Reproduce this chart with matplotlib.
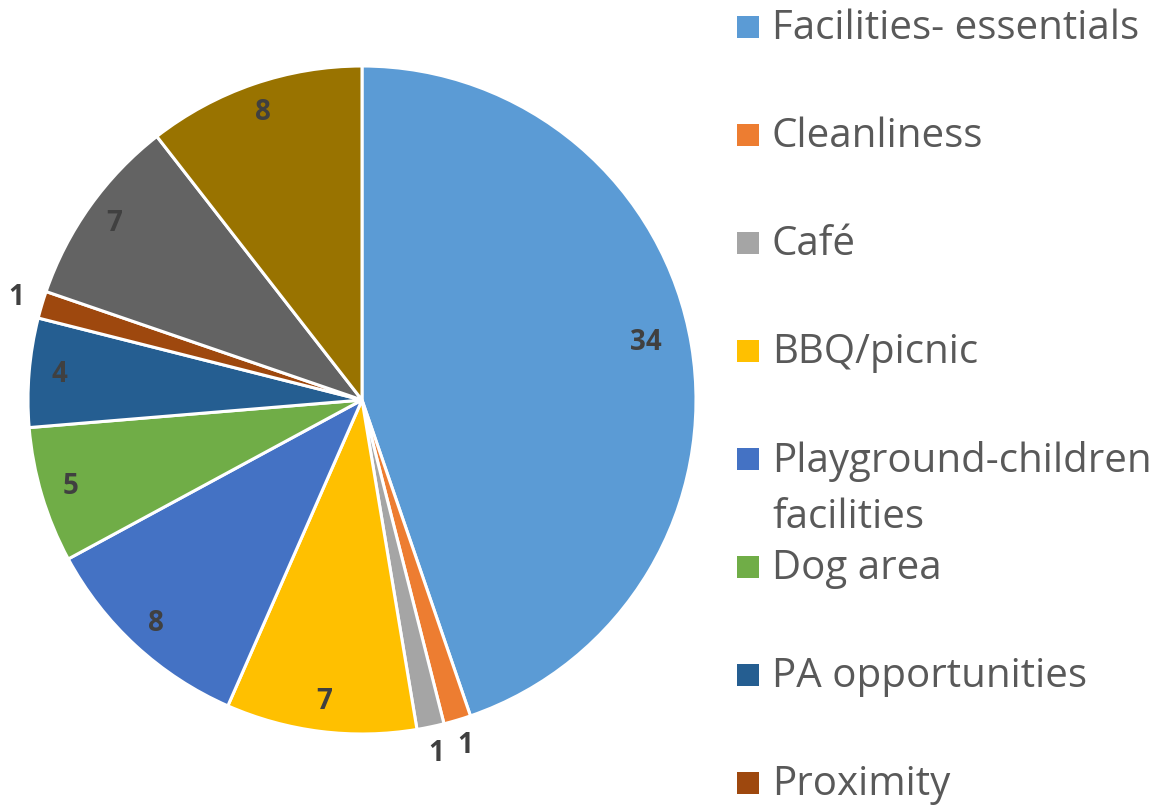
import numpy as np
import matplotlib.pyplot as plt
from matplotlib.patches import Rectangle

# ---- data ------------------------------------------------------------
categories = ["Facilities- essentials", "Cleanliness", "Café", "BBQ/picnic",
              "Playground-children\nfacilities", "Dog area", "PA opportunities",
              "Proximity", "Other", "Other 2"]
values = [34, 1, 1, 7, 8, 5, 4, 1, 7, 8]
legend_count = 8   # only the first 8 legend rows fit in the picture

colors = ["#5B9BD5", "#ED7D31", "#A5A5A5", "#FFC000", "#4472C4",
          "#70AD47", "#255E91", "#9E480E", "#636363", "#997300"]

W, H = 1173, 808
fig = plt.figure(figsize=(W / 100, H / 100), dpi=100)

# pie axes: centre (362, 400) px, radius ~334 px
cx, cy, r = 362, 400, 334
ax = fig.add_axes([(cx - r) / W, (H - cy - r) / H, 2 * r / W, 2 * r / H])
wedges, _ = ax.pie(values, colors=colors, startangle=90, counterclock=False,
                   wedgeprops=dict(edgecolor="white", linewidth=2.2))
ax.set_xlim(-1, 1)
ax.set_ylim(-1, 1)
ax.set_aspect("auto")

# data labels
for w, v in zip(wedges, values):
    mid = np.deg2rad((w.theta1 + w.theta2) / 2)
    if v == 1:
        d = 1.08
    elif v > 20:
        d = 0.86
    else:
        d = 0.91
    ax.text(d * np.cos(mid), d * np.sin(mid) + (0.03 if v > 20 else 0), str(v),
            ha="center", va="center",
            fontsize=20, fontweight="bold", color="#404040",
            family="Open Sans", clip_on=False)

# ---- manual legend ---------------------------------------------------
y0, step = 27, 108.0
for i in range(legend_count):
    y = y0 + i * step
    fig.patches.append(Rectangle(((737) / W, (H - y - 11) / H), 22 / W, 22 / H,
                                 transform=fig.transFigure,
                                 facecolor=colors[i], edgecolor="none"))
    lines = categories[i].split("\n")
    for j, ln in enumerate(lines):
        fig.text(772 / W, (H - y - 2 - j * 57) / H, ln, ha="left", va="center",
                 fontsize=29, color="#595959", family="Open Sans")

fig.savefig("out.png", dpi=100)
